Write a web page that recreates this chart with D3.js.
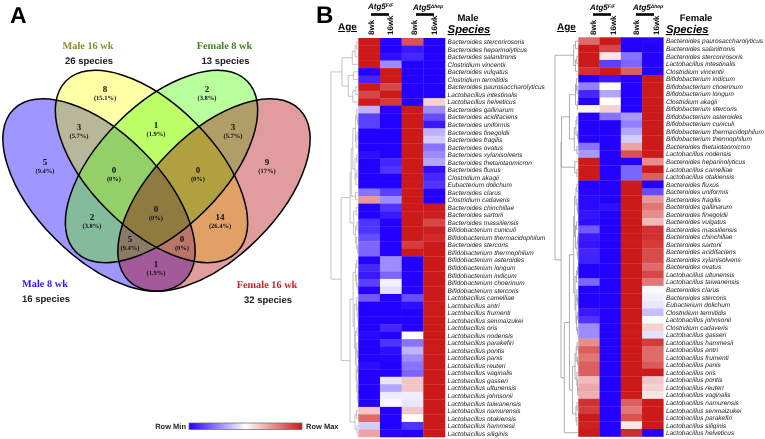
<!DOCTYPE html>
<html><head><meta charset="utf-8">
<script src="https://cdn.jsdelivr.net/npm/d3@7"></script>
<style>
html,body{margin:0;padding:0;background:#fff}
svg{display:block;filter:blur(.3px)}
text{font-family:"Liberation Sans",Arial,sans-serif;text-rendering:geometricPrecision}
.serif{font-family:"Liberation Serif",serif;font-weight:bold}
</style></head><body>
<svg id="c" width="765" height="439"></svg>
<script>
/* ---------- Venn data ---------- */
const vennSets = ["M8","M16","F8","F16"];
const vennRegions = [
 ["M8",          5,"9.4%", "#9f97ff"],
 ["M16",         8,"15.1%","#ffffa6"],
 ["F8",          2,"3.8%", "#b9ff9c"],
 ["F16",         9,"17%",  "#e19d9d"],
 ["M8 M16",      3,"5.7%", "#b9b79a"],
 ["M16 F8",      1,"1.9%", "#bcff66"],
 ["F8 F16",      3,"5.7%", "#b09d68"],
 ["M8 F8",       2,"3.8%", "#83bb9c"],
 ["M16 F16",    14,"26.4%","#e0a066"],
 ["M8 F16",      1,"1.9%", "#a35a98"],
 ["M8 M16 F8",   0,"0%",   "#93d068"],
 ["M16 F8 F16",  0,"0%",   "#b0a040"],
 ["M8 F8 F16",   5,"9.4%", "#8d7a66"],
 ["M8 M16 F16",  0,"0%",   "#bb7566"],
 ["M8 M16 F8 F16",0,"0%",  "#8f7a40"]
];
const vennTitles = [
 ["Male 16 wk","26 species","#8b8b2a"],
 ["Female 8 wk","13 species","#3f7f1c"],
 ["Male 8 wk","16 species","#2a14ff"],
 ["Female 16 wk","32 species","#cc2026"]
];
/* ---------- Heat map data ---------- */
const columnLabels = ["8wk","16wk","8wk","16wk"];
const maleSpecies = ["Bacteroides stercorirosoris","Bacteroides heparinolyticus","Bacteroides salanitronis","Clostridium vincentii","Bacteroides vulgatus","Clostridium termitidis","Bacteroides paurosaccharolyticus","Lactobacillus intestinalis","Lactobacillus helveticus","Bacteroides gallinarum","Bacteroides acidifaciens","Bacteroides uniformis","Bacteroides finegoldii","Bacteroides fragilis","Bacteroides ovatus","Bacteroides xylanisolvens","Bacteroides thetaiotaomicron","Bacteroides fluxus","Clostridium akagii","Eubacterium dolichum","Bacteroides clarus","Clostridium cadaveris","Bacteroides chinchillae","Bacteroides sartorii","Bacteroides massiliensis","Bifidobacterium cuniculi","Bifidobacterium thermacidophilum","Bacteroides stercoris","Bifidobacterium thermophilum","Bifidobacterium asteroides","Bifidobacterium longum","Bifidobacterium indicum","Bifidobacterium choerinum","Bifidobacterium stercoris","Lactobacillus camelliae","Lactobacillus antri","Lactobacillus frumenti","Lactobacillus senmaizukei","Lactobacillus oris","Lactobacillus nodensis","Lactobacillus parakefiri","Lactobacillus pontis","Lactobacillus panis","Lactobacillus reuteri","Lactobacillus vaginalis","Lactobacillus gasseri","Lactobacillus ultunensis","Lactobacillus johnsonii","Lactobacillus taiwanensis","Lactobacillus namurensis","Lactobacillus otakiensis","Lactobacillus hammesii","Lactobacillus siliginis"];
const maleValues = [
[1,-1,.75,-1],[1,-1,-.9,-1],[1,-.95,-.85,-1],[1,-.45,-1,-1],[-1,1,-1,-1],[-.85,1,-1,-1],[1,.8,-1,-1],[.8,1,-1,-1],[1,.85,-1,.2],
[-.3,-1,1,-.45],[-.75,-1,1,-.7],[-.75,-1,1,-.9],[-1,-1,1,-.3],[-1,-1,1,-.2],[-1,-1,1,-.55],[-.95,-1,1,-.45],[-1,-.85,1,-.35],[-1,-.8,1,-.95],[-1,-1,1,-.85],[-1,-1,1,-.8],[-.55,-.75,1,-1],[.45,-.45,1,-1],
[-1,-.8,1,1],[-1,-.9,1,.98],[-.8,-1,1,.8],[-.8,-1,1,.98],[-.7,-1,1,.93],[-.6,-1,.85,1],[-.6,-1,1,1],
[-1,-.45,-1,1],[-.85,-.45,-1,1],[-.9,-.6,-1,1],[-.75,-.05,-1,1],[-1,-.12,-1,1],[-.65,-1,-.7,1],[-1,-1,-.95,1],[-1,-1,-1,1],[-1,-1,-1,1],[-1,-.85,-1,1],[-.97,-1,0,1],[-1,-.8,-.55,1],[-1,-.95,-.3,1],[-1,-.98,-.45,1],[-.95,-1,-.55,1],[-1,-1,-.6,1],[-1,-.1,.25,1],[-1,-.35,.25,1],[-1,-.08,-.07,1],[-1,.03,-.1,1],[.25,-1,.25,1],[.65,-1,0,1],[-.2,-1,-.8,1],[.4,-.98,-1,1]];
const femaleSpecies = ["Bacteroides paurosaccharolyticus","Bacteroides salanitronis","Bacteroides stercorirosoris","Lactobacillus intestinalis","Clostridium vincentii","Bifidobacterium indicum","Bifidobacterium choerinum","Bifidobacterium longum","Clostridium akagii","Bifidobacterium stercoris","Bifidobacterium asteroides","Bifidobacterium cuniculi","Bifidobacterium thermacidophilum","Bifidobacterium thermophilum","Bacteroides thetaiotaomicron","Lactobacillus nodensis","Bacteroides heparinolyticus","Lactobacillus camelliae","Lactobacillus otakiensis","Bacteroides fluxus","Bacteroides uniformis","Bacteroides fragilis","Bacteroides gallinarum","Bacteroides finegoldii","Bacteroides vulgatus","Bacteroides massiliensis","Bacteroides chinchillae","Bacteroides sartorii","Bacteroides acidifaciens","Bacteroides xylanisolvens","Bacteroides ovatus","Lactobacillus ultunensis","Lactobacillus taiwanensis","Bacteroides clarus","Bacteroides stercoris","Eubacterium dolichum","Clostridium termitidis","Lactobacillus johnsonii","Clostridium cadaveris","Lactobacillus gasseri","Lactobacillus hammesii","Lactobacillus antri","Lactobacillus frumenti","Lactobacillus panis","Lactobacillus oris","Lactobacillus pontis","Lactobacillus reuteri","Lactobacillus vaginalis","Lactobacillus namurensis","Lactobacillus senmaizukei","Lactobacillus parakefiri","Lactobacillus siliginis","Lactobacillus helveticus"];
const femaleValues = [
[.65,1,-1,-.98],[1,.8,-1,-1],[1,.1,-.55,-1],[1,-.75,-.6,-1],[.9,1,.7,-1],
[-1,-.9,-1,1],[-.5,0,-1,1],[-.85,-.35,-1,1],[-1,0,-1,1],[.05,.2,-1,1],[-1,-.55,-.4,1],[-1,-1,-.5,1],[-1,-1,-.35,1],[-1,-1,-.2,1],[-.55,-1,.4,1],[-.4,-1,.75,1],
[1,-1,-1,.5],[1,-1,-.6,1],[1,-1,-.6,.7],
[-1,-1,1,-1],[-.98,-1,1,-.7],[-.97,-1,1,.45],[-.97,-.95,1,.6],[-.92,-1,1,.5],[-.95,-1,1,.3],[-.65,-1,1,.9],[-.9,-1,1,.9],[-.92,-1,1,.85],[-.85,-1,1,.78],[-.87,-1,1,.78],[-1,-1,1,.65],[-1,-1,1,.8],[-.6,-1,1,.6],[-1,-1,1,-.02],[-1,-1,1,-.06],[-1,-1,1,-.1],[-.9,-1,1,-.25],[-.8,-1,1,-.02],[-.45,-1,1,.2],[-.45,-1,1,-.12],
[.5,-1,1,.85],[.7,-1,1,.65],[.6,-1,1,.65],[.7,-1,1,.72],[.7,-1,1,1],[.3,-1,1,.25],[.38,-1,1,.2],[.35,-1,1,.12],[.9,-1,.7,1],[.85,-1,.6,1],[1,-1,.75,1],[.97,-1,.1,1],[1,-1,.92,-1]];
/* dendrograms: [height, childA, childB], numbers are row indices */
const maleTree = [1,
 [.6,
  [.22,[.12,[.06,0,1],2],3],
  [.37,[.18,4,5],[.2,[.09,6,7],8]]],
 [.63,
  [.3,
   [.26,
    [.2,[.1,[.05,9,[.03,10,11]],[.08,[.04,12,13],14]],[.12,[.06,15,16],[.09,[.05,17,18],19]]],
    [.1,20,21]],
   [.17,[.08,22,23],[.1,[.05,24,25],[.07,26,[.03,27,28]]]]],
  [.3,
   [.19,
    [.1,[.06,29,30],[.07,31,[.04,32,33]]],
    [.14,[.07,34,[.04,35,[.02,36,37]]],[.1,[.05,38,39],[.08,[.05,40,[.03,41,42]],[.06,[.03,43,44],[.04,[.02,45,46],[.02,47,48]]]]]]],
   [.12,[.07,49,50],[.05,51,52]]]]];
const femaleTree = [1,
 [.38,[.2,[.12,0,1],[.12,[.06,2,3],4]],null],
 [.74,
  [.72,
   [.38,
    [.2,[.12,[.08,5,[.05,6,7]],[.04,8,9]],null],
    [.17,[.1,[.06,10,11],[.04,12,13]],[.06,14,15]]],
   [.15,16,[.06,17,18]]],
  [.6,
   [.38,
    [.2,
     [.16,[.1,[.06,19,20],[.05,21,[.03,22,23]]],[.12,[.07,24,25],[.05,[.03,26,27],[.02,28,29]]]],
     [.14,[.08,[.04,30,31],32],[.1,[.06,33,[.03,34,35]],[.07,[.04,36,37],[.03,38,39]]]]],
    [.25,
     [.14,[.09,[.05,40,41],[.04,42,43]],[.06,44,[.03,45,[.02,46,47]]]],
     [.1,[.05,48,49],[.06,50,51]]]],
   52]]];

/* ---------- Scales ---------- */
const svg = d3.select("#c");
const color = d3.scaleLinear().domain([-1,0,1]).range(["#2400ff","#ffffff","#cc1a1a"]);
const black = "#000";

/* ---------- Panel letters ---------- */
svg.append("text").attr("x",10).attr("y",23).attr("font-size",23).attr("font-weight","bold").text("A");
svg.append("text").attr("x",316).attr("y",23).attr("font-size",24).attr("font-weight","bold").text("B");

/* ---------- Venn ---------- */
const vennCx = d3.scaleOrdinal(vennSets,[99,151.5,161.5,214]);
const vennCy = d3.scaleOrdinal(vennSets,[195,166.5,166.5,195]);
const vennRx = 121, vennRy = 62;
const rot = s => `rotate(${(s==="M8"||s==="M16")?45:-45} ${vennCx(s)} ${vennCy(s)})`;
const defs = svg.append("defs");
vennSets.forEach(s=>{
  defs.append("clipPath").attr("id","clip"+s).append("ellipse")
   .attr("cx",vennCx(s)).attr("cy",vennCy(s)).attr("rx",vennRx).attr("ry",vennRy).attr("transform",rot(s));
});
const gr = defs.append("linearGradient").attr("id","rowGrad");
d3.range(0,1.01,.1).forEach(t=>gr.append("stop").attr("offset",t).attr("stop-color",color(t*2-1)));

const venn = svg.append("g");
vennRegions.forEach(r=>{
  let g = venn;
  r[0].split(" ").forEach(s=>{ g = g.append("g").attr("clip-path",`url(#clip${s})`); });
  g.append("rect").attr("width",320).attr("height",300).attr("fill",r[3]);
});
vennSets.forEach(s=>{
  venn.append("ellipse").attr("cx",vennCx(s)).attr("cy",vennCy(s)).attr("rx",vennRx).attr("ry",vennRy)
   .attr("transform",rot(s)).attr("fill","none").attr("stroke",black).attr("stroke-width",1.5);
});
const vennLabelX = d3.scaleOrdinal(vennRegions.map(r=>r[0]),[45,105,207,267,79,156,233,92,220,156,114,198,130,182,156]);
const vennLabelY = d3.scaleOrdinal(vennRegions.map(r=>r[0]),[165,92,92,165,130,128,130,220,220,267,173,173,242,242,212]);
vennRegions.forEach(r=>{
  venn.append("text").attr("class","serif").attr("x",vennLabelX(r[0])).attr("y",vennLabelY(r[0]))
    .attr("text-anchor","middle").attr("font-size",9).attr("fill","#111").text(r[1]);
  venn.append("text").attr("class","serif").attr("x",vennLabelX(r[0])).attr("y",vennLabelY(r[0])+7.5)
    .attr("text-anchor","middle").attr("font-size",6.5).attr("fill","#111").text(`(${r[2]})`);
});
const titleX = d3.scaleOrdinal(vennTitles.map(t=>t[0]),[88,224.5,45,267]);
const titleY = d3.scaleOrdinal(vennTitles.map(t=>t[0]),[49,49,287,288]);
vennTitles.forEach(t=>{
  venn.append("text").attr("class","serif").attr("x",titleX(t[0])).attr("y",titleY(t[0]))
   .attr("text-anchor","middle").attr("font-size",10.3).attr("fill",t[2]).text(t[0]);
  venn.append("text").attr("x",titleX(t[0])+1).attr("y",titleY(t[0])+14.5)
   .attr("text-anchor","middle").attr("font-size",9.5).attr("font-weight","bold").attr("fill","#222").text(t[1]);
});

/* ---------- Heat map panels ---------- */
function panel(o){
  const g = svg.append("g");
  const y = d3.scaleBand().domain(d3.range(o.species.length)).range(o.yr);
  const x = d3.scaleBand().domain(d3.range(4)).range(o.xr);
  const h = d3.scaleLinear().domain([0,1]).range([o.xr[0],o.rootX]);
  g.selectAll("g.row").data(o.values).join("g").attr("class","row")
   .attr("transform",(d,i)=>`translate(0,${y(i)})`)
   .selectAll("rect").data(d=>d).join("rect")
   .attr("x",(d,i)=>x(i)).attr("width",x.bandwidth()+.3).attr("height",y.bandwidth()+.3)
   .attr("fill",d=>color(d));
  g.selectAll("text.sp").data(o.species).join("text").attr("class","sp")
   .attr("x",o.xr[1]+2.6).attr("y",(d,i)=>y(i)+y.bandwidth()/2+2.4)
   .attr("font-size",6.5).attr("font-style","italic").attr("fill","#222").text(d=>d);
  g.selectAll("text.col").data(columnLabels).join("text").attr("class","col")
   .attr("transform",(d,i)=>`translate(${o.colX[i]+3},35) rotate(-90)`)
   .attr("font-size",8).attr("font-weight","bold").attr("fill","#111").text(d=>d);
  /* dendrogram */
  const dl = g.append("g").attr("fill","none").attr("stroke",o.treeColor).attr("stroke-width",.8);
  (function walk(n){
    if(n===null) return null;
    if(typeof n==="number") return {x:h(0),y:y(n)+y.bandwidth()/2};
    const kids = n.slice(1).map(walk).filter(Boolean);
    const X = h(n[0]);
    const ys = kids.map(k=>k.y);
    dl.append("path").attr("d",`M${X},${d3.min(ys)}V${d3.max(ys)}`);
    kids.forEach(k=>dl.append("path").attr("d",`M${k.x},${k.y}H${X}`));
    return {x:X,y:d3.mean(ys)};
  })(o.tree);
  /* headers */
  g.append("text").attr("x",o.ageX).attr("y",30).attr("font-size",10).attr("font-weight","bold").attr("text-decoration","underline").text("Age");
  o.genotypes.forEach(t=>{
    const l = g.append("text").attr("x",t.x).attr("y",t.y).attr("font-size",8).attr("font-weight","bold").attr("font-style","italic");
    l.append("tspan").text("Atg5");
    l.append("tspan").attr("dy",-2.5).attr("font-size",5).text(t.sup);
    g.append("line").attr("x1",t.x+3).attr("x2",t.x+21).attr("y1",14.5).attr("y2",14.5).attr("stroke",black).attr("stroke-width",2.6);
  });
  g.append("text").attr("x",o.titleX).attr("y",21).attr("text-anchor","middle").attr("font-size",9.5).attr("font-weight","bold").text(o.title);
  g.append("text").attr("x",o.xr[1]+2.6).attr("y",33).attr("font-size",11.3).attr("font-weight","bold").attr("font-style","italic").attr("text-decoration","underline").text("Species");
}
panel({species:maleSpecies,values:maleValues,tree:maleTree,yr:[38,437],xr:[358.3,445],rootX:331,treeColor:"#b4b4b4",
  colX:[371,390,414,434],ageX:338,titleX:468,title:"Male",
  genotypes:[{x:368,y:9,sup:"F/F"},{x:413,y:10,sup:"Δhep"}]});
panel({species:femaleSpecies,values:femaleValues,tree:femaleTree,yr:[37.3,436.5],xr:[578.3,663.3],rootX:555,treeColor:"#9a9a9a",
  colX:[593,613,636,656],ageX:557,titleX:696,title:"Female",
  genotypes:[{x:590,y:10,sup:"F/F"},{x:633,y:10,sup:"Δhep"}]});

/* ---------- Colour legend ---------- */
svg.append("rect").attr("x",189).attr("y",423).attr("width",113).attr("height",6.5)
  .attr("fill","url(#rowGrad)").attr("stroke","#666").attr("stroke-width",.7);
svg.append("text").attr("x",186).attr("y",429).attr("text-anchor","end").attr("font-size",7.5).attr("font-weight","bold").attr("fill","#222").text("Row Min");
svg.append("text").attr("x",306).attr("y",429).attr("font-size",7.5).attr("font-weight","bold").attr("fill","#222").text("Row Max");
</script>
</body></html>
